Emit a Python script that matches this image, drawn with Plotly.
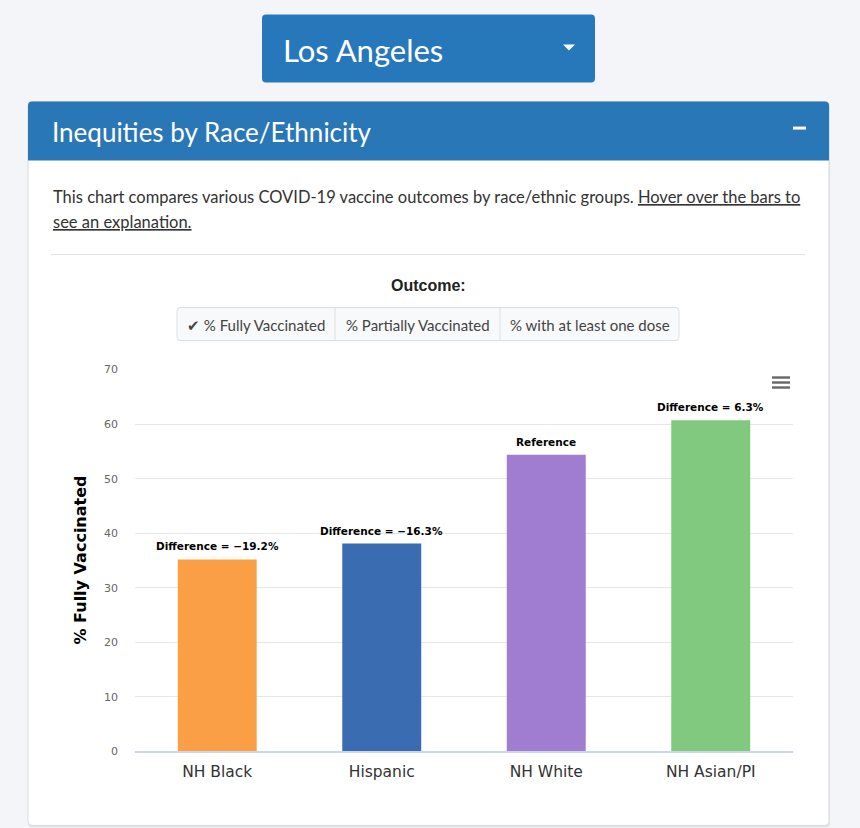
import plotly.graph_objects as go

# ---- data ----
categories = ["NH Black", "Hispanic", "NH White", "NH Asian/PI"]
pct_fully_vaccinated = [35.2, 38.1, 54.4, 60.7]
bar_labels = ["Difference = \u221219.2%", "Difference = \u221216.3%", "Reference", "Difference = 6.3%"]
bar_colors = ["#fb9f47", "#396cb0", "#a07dd0", "#80c97f"]
y_ticks = [0, 10, 20, 30, 40, 50, 60, 70]
outcome_buttons = ["\u2714 % Fully Vaccinated", "% Partially Vaccinated", "% with at least one dose"]

W, H = 860, 828
# vertical calibration of the capture (screen y = 6.4 + 0.9845 * figure y)
V_OFF, V_SCALE = 6.4, 0.9845
def X(x): return x / W
def Y(y): return 1 - ((y - V_OFF) / V_SCALE) / H

def rounded_rect(x0, y0, x1, y1, r, top_only=False):
    rb = 0 if top_only else r
    return (f"M {X(x0 + r)},{Y(y0)} L {X(x1 - r)},{Y(y0)} Q {X(x1)},{Y(y0)} {X(x1)},{Y(y0 + r)} "
            f"L {X(x1)},{Y(y1 - rb)} Q {X(x1)},{Y(y1)} {X(x1 - rb)},{Y(y1)} "
            f"L {X(x0 + rb)},{Y(y1)} Q {X(x0)},{Y(y1)} {X(x0)},{Y(y1 - rb)} "
            f"L {X(x0)},{Y(y0 + r)} Q {X(x0)},{Y(y0)} {X(x0 + r)},{Y(y0)} Z")

UI_FONT = "Lato"
CHART_FONT = "DejaVu Sans"
PAGE_BG = "#f4f5f8"

fig = go.Figure()
fig.add_trace(go.Bar(
    x=categories, y=pct_fully_vaccinated,
    marker=dict(color=bar_colors, line=dict(width=0)),
    width=0.48,
    hoverinfo="x+y",
))

shapes = []
annotations = []

# bar labels, positioned through the data axes
for cat, val, lab in zip(categories, pct_fully_vaccinated, bar_labels):
    annotations.append(dict(x=cat, y=val, xref="x", yref="y", xanchor="center", yanchor="bottom",
                            yshift=5, text=f"<b>{lab}</b>", showarrow=False,
                            font=dict(family=CHART_FONT, size=10.5, color="#000000")))

# dropdown button
shapes.append(dict(type="path", xref="paper", yref="paper", path=rounded_rect(262, 15, 595, 83, 4),
                   fillcolor="#2778bb", line=dict(width=0), layer="below"))
shapes.append(dict(type="path", xref="paper", yref="paper",
                   path=f"M {X(563)},{Y(45)} L {X(575)},{Y(45)} L {X(569)},{Y(51)} Z",
                   fillcolor="white", line=dict(width=0)))
annotations.append(dict(x=X(281), y=Y(50), xref="paper", yref="paper", xanchor="left", yanchor="middle",
                        text="Los Angeles", showarrow=False, font=dict(family=UI_FONT, size=31, color="white")))

# card (soft shadow, body, header)
shapes.append(dict(type="path", xref="paper", yref="paper", path=rounded_rect(28, 103, 830, 828, 4),
                   fillcolor="#e3e5ea", line=dict(width=0), layer="below"))
shapes.append(dict(type="path", xref="paper", yref="paper", path=rounded_rect(28, 102, 829, 826, 4),
                   fillcolor="white", line=dict(color="#d8dadf", width=1), layer="below"))
shapes.append(dict(type="path", xref="paper", yref="paper", path=rounded_rect(28, 102, 829, 161, 4, top_only=True),
                   fillcolor="#2a77b8", line=dict(width=0), layer="below"))
annotations.append(dict(x=X(50), y=Y(132), xref="paper", yref="paper", xanchor="left", yanchor="middle",
                        text="Inequities by Race/Ethnicity", showarrow=False,
                        font=dict(family=UI_FONT, size=26, color="white")))
shapes.append(dict(type="rect", xref="paper", yref="paper", x0=X(793), x1=X(806), y0=Y(130), y1=Y(127),
                   fillcolor="white", line=dict(width=0)))

# description
annotations.append(dict(x=X(51), y=Y(197), xref="paper", yref="paper", xanchor="left", yanchor="middle",
                        text="This chart compares various COVID-19 vaccine outcomes by race/ethnic groups. <u>Hover over the bars to</u>",
                        showarrow=False, font=dict(family=UI_FONT, size=16.5, color="#333333")))
annotations.append(dict(x=X(51), y=Y(222), xref="paper", yref="paper", xanchor="left", yanchor="middle",
                        text="<u>see an explanation.</u>",
                        showarrow=False, font=dict(family=UI_FONT, size=16.5, color="#333333")))
shapes.append(dict(type="line", xref="paper", yref="paper", x0=X(51), x1=X(805), y0=Y(255), y1=Y(255),
                   line=dict(color="#e3e3e3", width=1)))

# outcome selector
annotations.append(dict(x=X(428), y=Y(286), xref="paper", yref="paper", xanchor="center", yanchor="middle",
                        text="<b>Outcome:</b>", showarrow=False,
                        font=dict(family="Liberation Sans", size=16, color="#222222")))
btn_edges = [177, 335, 500, 679]
shapes.append(dict(type="path", xref="paper", yref="paper", path=rounded_rect(177, 308, 679, 341, 3),
                   fillcolor="#f8f9fa", line=dict(color="#dcdfe3", width=1)))
for e in btn_edges[1:-1]:
    shapes.append(dict(type="line", xref="paper", yref="paper", x0=X(e), x1=X(e), y0=Y(341), y1=Y(308),
                       line=dict(color="#dcdfe3", width=1)))
for i, lab in enumerate(outcome_buttons):
    cx = (btn_edges[i] + btn_edges[i + 1]) / 2
    annotations.append(dict(x=X(cx), y=Y(325), xref="paper", yref="paper", xanchor="center", yanchor="middle",
                            text=lab, showarrow=False, font=dict(family=UI_FONT, size=15, color="#444444")))

# hamburger menu icon
for yy in [378, 383, 388]:
    shapes.append(dict(type="rect", xref="paper", yref="paper", x0=X(772), x1=X(790), y0=Y(yy + 1.2), y1=Y(yy - 1.2),
                       fillcolor="#666666", line=dict(width=0)))

# y-axis title
annotations.append(dict(x=X(80), y=Y(561), xref="paper", yref="paper", xanchor="center", yanchor="middle",
                        text="<b>% Fully Vaccinated</b>", textangle=-90, showarrow=False,
                        font=dict(family=CHART_FONT, size=16, color="#000000")))

fig.update_layout(
    width=W, height=H,
    margin=dict(l=0, r=0, t=0, b=0),
    paper_bgcolor=PAGE_BG,
    plot_bgcolor="rgba(0,0,0,0)",
    showlegend=False,
    shapes=shapes,
    annotations=annotations,
    xaxis=dict(domain=[X(135), X(793)], showgrid=False, showline=True, linecolor="#ccd6eb", linewidth=2,
               ticks="", tickfont=dict(family=CHART_FONT, size=15.5, color="#333333"), ticklabelstandoff=5,
               fixedrange=True),
    yaxis=dict(domain=[Y(752), Y(370)], range=[0, 70], tickvals=y_ticks, showgrid=True, gridcolor="#e6e6e6",
               gridwidth=1, zeroline=False, showline=False, ticks="",
               tickfont=dict(family=CHART_FONT, size=11, color="#666666"), ticklabelstandoff=16,
               fixedrange=True),
)

fig.write_html(
    "out.html",
    config={"displayModeBar": False},
    post_script=(
        "var g=document.getElementById('{plot_id}');"
        "g.style.position='fixed';g.style.top='0px';g.style.left='0px';"
        "document.body.style.margin='0';document.body.style.overflow='hidden';"
        "document.body.style.background='" + PAGE_BG + "';"
        "document.documentElement.style.background='" + PAGE_BG + "';"
    ),
)
